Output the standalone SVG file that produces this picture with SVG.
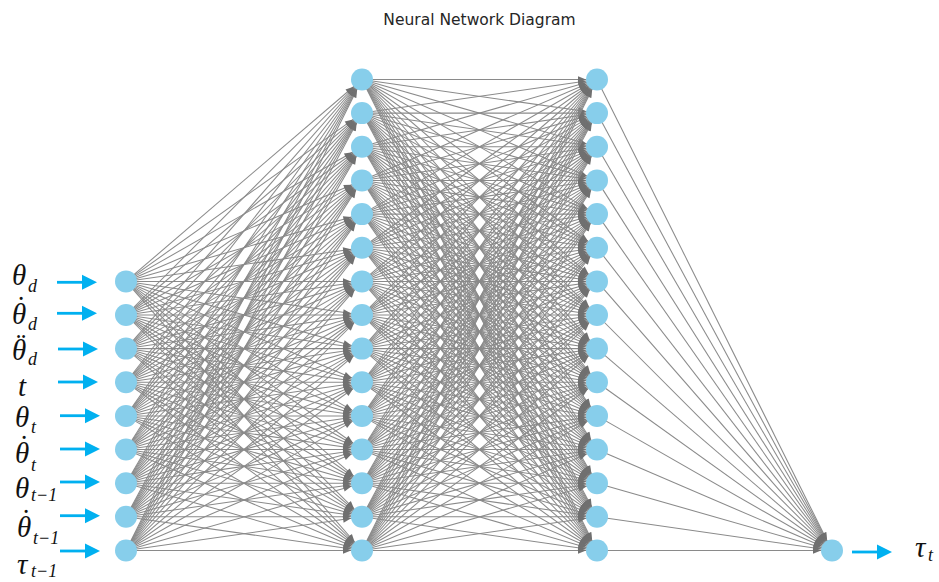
<svg xmlns="http://www.w3.org/2000/svg" width="939" height="582" viewBox="0 0 939 582">
<style>
.title{font-family:"DejaVu Sans","Liberation Sans",sans-serif;font-size:15.5px;fill:#262626}
.lbl{font-family:"Liberation Serif","DejaVu Serif",serif;font-style:italic;font-size:29px;fill:#111}
.sub{font-size:18px}
.acc{font-style:normal}
#connectors path{stroke:#8a8a8a;stroke-width:1.05;fill:none;marker-end:url(#ah)}
.node{fill:#87CEEB}
.barrow{fill:#00B0F0}
</style>
<defs>
<marker id="ah" markerUnits="userSpaceOnUse" markerWidth="30" markerHeight="10" refX="19" refY="0" orient="auto" overflow="visible">
<path d="M0,-3.2L8,0L0,3.2z" fill="#707070"/>
</marker>
<g id="ba"><rect x="0" y="-1.4" width="27" height="2.8"/><path d="M25,-7.5L40,0L25,7.5z"/></g>
</defs>
<rect width="939" height="582" fill="#fff"/>
<text class="title" x="479.5" y="25" text-anchor="middle">Neural Network Diagram</text>
<g id="connectors">
<path d="M126 281.4L362 79.5"/><path d="M126 281.4L362 113.1"/><path d="M126 281.4L362 146.8"/><path d="M126 281.4L362 180.4"/><path d="M126 281.4L362 214.1"/><path d="M126 281.4L362 247.7"/><path d="M126 281.4L362 281.4"/><path d="M126 281.4L362 315"/><path d="M126 281.4L362 348.6"/><path d="M126 281.4L362 382.3"/><path d="M126 281.4L362 415.9"/><path d="M126 281.4L362 449.5"/><path d="M126 281.4L362 483.2"/><path d="M126 281.4L362 516.8"/><path d="M126 281.4L362 550.5"/>
<path d="M126 315L362 79.5"/><path d="M126 315L362 113.1"/><path d="M126 315L362 146.8"/><path d="M126 315L362 180.4"/><path d="M126 315L362 214.1"/><path d="M126 315L362 247.7"/><path d="M126 315L362 281.4"/><path d="M126 315L362 315"/><path d="M126 315L362 348.6"/><path d="M126 315L362 382.3"/><path d="M126 315L362 415.9"/><path d="M126 315L362 449.5"/><path d="M126 315L362 483.2"/><path d="M126 315L362 516.8"/><path d="M126 315L362 550.5"/>
<path d="M126 348.6L362 79.5"/><path d="M126 348.6L362 113.1"/><path d="M126 348.6L362 146.8"/><path d="M126 348.6L362 180.4"/><path d="M126 348.6L362 214.1"/><path d="M126 348.6L362 247.7"/><path d="M126 348.6L362 281.4"/><path d="M126 348.6L362 315"/><path d="M126 348.6L362 348.6"/><path d="M126 348.6L362 382.3"/><path d="M126 348.6L362 415.9"/><path d="M126 348.6L362 449.5"/><path d="M126 348.6L362 483.2"/><path d="M126 348.6L362 516.8"/><path d="M126 348.6L362 550.5"/>
<path d="M126 382.3L362 79.5"/><path d="M126 382.3L362 113.1"/><path d="M126 382.3L362 146.8"/><path d="M126 382.3L362 180.4"/><path d="M126 382.3L362 214.1"/><path d="M126 382.3L362 247.7"/><path d="M126 382.3L362 281.4"/><path d="M126 382.3L362 315"/><path d="M126 382.3L362 348.6"/><path d="M126 382.3L362 382.3"/><path d="M126 382.3L362 415.9"/><path d="M126 382.3L362 449.5"/><path d="M126 382.3L362 483.2"/><path d="M126 382.3L362 516.8"/><path d="M126 382.3L362 550.5"/>
<path d="M126 415.9L362 79.5"/><path d="M126 415.9L362 113.1"/><path d="M126 415.9L362 146.8"/><path d="M126 415.9L362 180.4"/><path d="M126 415.9L362 214.1"/><path d="M126 415.9L362 247.7"/><path d="M126 415.9L362 281.4"/><path d="M126 415.9L362 315"/><path d="M126 415.9L362 348.6"/><path d="M126 415.9L362 382.3"/><path d="M126 415.9L362 415.9"/><path d="M126 415.9L362 449.5"/><path d="M126 415.9L362 483.2"/><path d="M126 415.9L362 516.8"/><path d="M126 415.9L362 550.5"/>
<path d="M126 449.5L362 79.5"/><path d="M126 449.5L362 113.1"/><path d="M126 449.5L362 146.8"/><path d="M126 449.5L362 180.4"/><path d="M126 449.5L362 214.1"/><path d="M126 449.5L362 247.7"/><path d="M126 449.5L362 281.4"/><path d="M126 449.5L362 315"/><path d="M126 449.5L362 348.6"/><path d="M126 449.5L362 382.3"/><path d="M126 449.5L362 415.9"/><path d="M126 449.5L362 449.5"/><path d="M126 449.5L362 483.2"/><path d="M126 449.5L362 516.8"/><path d="M126 449.5L362 550.5"/>
<path d="M126 483.2L362 79.5"/><path d="M126 483.2L362 113.1"/><path d="M126 483.2L362 146.8"/><path d="M126 483.2L362 180.4"/><path d="M126 483.2L362 214.1"/><path d="M126 483.2L362 247.7"/><path d="M126 483.2L362 281.4"/><path d="M126 483.2L362 315"/><path d="M126 483.2L362 348.6"/><path d="M126 483.2L362 382.3"/><path d="M126 483.2L362 415.9"/><path d="M126 483.2L362 449.5"/><path d="M126 483.2L362 483.2"/><path d="M126 483.2L362 516.8"/><path d="M126 483.2L362 550.5"/>
<path d="M126 516.8L362 79.5"/><path d="M126 516.8L362 113.1"/><path d="M126 516.8L362 146.8"/><path d="M126 516.8L362 180.4"/><path d="M126 516.8L362 214.1"/><path d="M126 516.8L362 247.7"/><path d="M126 516.8L362 281.4"/><path d="M126 516.8L362 315"/><path d="M126 516.8L362 348.6"/><path d="M126 516.8L362 382.3"/><path d="M126 516.8L362 415.9"/><path d="M126 516.8L362 449.5"/><path d="M126 516.8L362 483.2"/><path d="M126 516.8L362 516.8"/><path d="M126 516.8L362 550.5"/>
<path d="M126 550.5L362 79.5"/><path d="M126 550.5L362 113.1"/><path d="M126 550.5L362 146.8"/><path d="M126 550.5L362 180.4"/><path d="M126 550.5L362 214.1"/><path d="M126 550.5L362 247.7"/><path d="M126 550.5L362 281.4"/><path d="M126 550.5L362 315"/><path d="M126 550.5L362 348.6"/><path d="M126 550.5L362 382.3"/><path d="M126 550.5L362 415.9"/><path d="M126 550.5L362 449.5"/><path d="M126 550.5L362 483.2"/><path d="M126 550.5L362 516.8"/><path d="M126 550.5L362 550.5"/>
<path d="M362 79.5L597 79.5"/><path d="M362 79.5L597 113.1"/><path d="M362 79.5L597 146.8"/><path d="M362 79.5L597 180.4"/><path d="M362 79.5L597 214.1"/><path d="M362 79.5L597 247.7"/><path d="M362 79.5L597 281.4"/><path d="M362 79.5L597 315"/><path d="M362 79.5L597 348.6"/><path d="M362 79.5L597 382.3"/><path d="M362 79.5L597 415.9"/><path d="M362 79.5L597 449.5"/><path d="M362 79.5L597 483.2"/><path d="M362 79.5L597 516.8"/><path d="M362 79.5L597 550.5"/>
<path d="M362 113.1L597 79.5"/><path d="M362 113.1L597 113.1"/><path d="M362 113.1L597 146.8"/><path d="M362 113.1L597 180.4"/><path d="M362 113.1L597 214.1"/><path d="M362 113.1L597 247.7"/><path d="M362 113.1L597 281.4"/><path d="M362 113.1L597 315"/><path d="M362 113.1L597 348.6"/><path d="M362 113.1L597 382.3"/><path d="M362 113.1L597 415.9"/><path d="M362 113.1L597 449.5"/><path d="M362 113.1L597 483.2"/><path d="M362 113.1L597 516.8"/><path d="M362 113.1L597 550.5"/>
<path d="M362 146.8L597 79.5"/><path d="M362 146.8L597 113.1"/><path d="M362 146.8L597 146.8"/><path d="M362 146.8L597 180.4"/><path d="M362 146.8L597 214.1"/><path d="M362 146.8L597 247.7"/><path d="M362 146.8L597 281.4"/><path d="M362 146.8L597 315"/><path d="M362 146.8L597 348.6"/><path d="M362 146.8L597 382.3"/><path d="M362 146.8L597 415.9"/><path d="M362 146.8L597 449.5"/><path d="M362 146.8L597 483.2"/><path d="M362 146.8L597 516.8"/><path d="M362 146.8L597 550.5"/>
<path d="M362 180.4L597 79.5"/><path d="M362 180.4L597 113.1"/><path d="M362 180.4L597 146.8"/><path d="M362 180.4L597 180.4"/><path d="M362 180.4L597 214.1"/><path d="M362 180.4L597 247.7"/><path d="M362 180.4L597 281.4"/><path d="M362 180.4L597 315"/><path d="M362 180.4L597 348.6"/><path d="M362 180.4L597 382.3"/><path d="M362 180.4L597 415.9"/><path d="M362 180.4L597 449.5"/><path d="M362 180.4L597 483.2"/><path d="M362 180.4L597 516.8"/><path d="M362 180.4L597 550.5"/>
<path d="M362 214.1L597 79.5"/><path d="M362 214.1L597 113.1"/><path d="M362 214.1L597 146.8"/><path d="M362 214.1L597 180.4"/><path d="M362 214.1L597 214.1"/><path d="M362 214.1L597 247.7"/><path d="M362 214.1L597 281.4"/><path d="M362 214.1L597 315"/><path d="M362 214.1L597 348.6"/><path d="M362 214.1L597 382.3"/><path d="M362 214.1L597 415.9"/><path d="M362 214.1L597 449.5"/><path d="M362 214.1L597 483.2"/><path d="M362 214.1L597 516.8"/><path d="M362 214.1L597 550.5"/>
<path d="M362 247.7L597 79.5"/><path d="M362 247.7L597 113.1"/><path d="M362 247.7L597 146.8"/><path d="M362 247.7L597 180.4"/><path d="M362 247.7L597 214.1"/><path d="M362 247.7L597 247.7"/><path d="M362 247.7L597 281.4"/><path d="M362 247.7L597 315"/><path d="M362 247.7L597 348.6"/><path d="M362 247.7L597 382.3"/><path d="M362 247.7L597 415.9"/><path d="M362 247.7L597 449.5"/><path d="M362 247.7L597 483.2"/><path d="M362 247.7L597 516.8"/><path d="M362 247.7L597 550.5"/>
<path d="M362 281.4L597 79.5"/><path d="M362 281.4L597 113.1"/><path d="M362 281.4L597 146.8"/><path d="M362 281.4L597 180.4"/><path d="M362 281.4L597 214.1"/><path d="M362 281.4L597 247.7"/><path d="M362 281.4L597 281.4"/><path d="M362 281.4L597 315"/><path d="M362 281.4L597 348.6"/><path d="M362 281.4L597 382.3"/><path d="M362 281.4L597 415.9"/><path d="M362 281.4L597 449.5"/><path d="M362 281.4L597 483.2"/><path d="M362 281.4L597 516.8"/><path d="M362 281.4L597 550.5"/>
<path d="M362 315L597 79.5"/><path d="M362 315L597 113.1"/><path d="M362 315L597 146.8"/><path d="M362 315L597 180.4"/><path d="M362 315L597 214.1"/><path d="M362 315L597 247.7"/><path d="M362 315L597 281.4"/><path d="M362 315L597 315"/><path d="M362 315L597 348.6"/><path d="M362 315L597 382.3"/><path d="M362 315L597 415.9"/><path d="M362 315L597 449.5"/><path d="M362 315L597 483.2"/><path d="M362 315L597 516.8"/><path d="M362 315L597 550.5"/>
<path d="M362 348.6L597 79.5"/><path d="M362 348.6L597 113.1"/><path d="M362 348.6L597 146.8"/><path d="M362 348.6L597 180.4"/><path d="M362 348.6L597 214.1"/><path d="M362 348.6L597 247.7"/><path d="M362 348.6L597 281.4"/><path d="M362 348.6L597 315"/><path d="M362 348.6L597 348.6"/><path d="M362 348.6L597 382.3"/><path d="M362 348.6L597 415.9"/><path d="M362 348.6L597 449.5"/><path d="M362 348.6L597 483.2"/><path d="M362 348.6L597 516.8"/><path d="M362 348.6L597 550.5"/>
<path d="M362 382.3L597 79.5"/><path d="M362 382.3L597 113.1"/><path d="M362 382.3L597 146.8"/><path d="M362 382.3L597 180.4"/><path d="M362 382.3L597 214.1"/><path d="M362 382.3L597 247.7"/><path d="M362 382.3L597 281.4"/><path d="M362 382.3L597 315"/><path d="M362 382.3L597 348.6"/><path d="M362 382.3L597 382.3"/><path d="M362 382.3L597 415.9"/><path d="M362 382.3L597 449.5"/><path d="M362 382.3L597 483.2"/><path d="M362 382.3L597 516.8"/><path d="M362 382.3L597 550.5"/>
<path d="M362 415.9L597 79.5"/><path d="M362 415.9L597 113.1"/><path d="M362 415.9L597 146.8"/><path d="M362 415.9L597 180.4"/><path d="M362 415.9L597 214.1"/><path d="M362 415.9L597 247.7"/><path d="M362 415.9L597 281.4"/><path d="M362 415.9L597 315"/><path d="M362 415.9L597 348.6"/><path d="M362 415.9L597 382.3"/><path d="M362 415.9L597 415.9"/><path d="M362 415.9L597 449.5"/><path d="M362 415.9L597 483.2"/><path d="M362 415.9L597 516.8"/><path d="M362 415.9L597 550.5"/>
<path d="M362 449.5L597 79.5"/><path d="M362 449.5L597 113.1"/><path d="M362 449.5L597 146.8"/><path d="M362 449.5L597 180.4"/><path d="M362 449.5L597 214.1"/><path d="M362 449.5L597 247.7"/><path d="M362 449.5L597 281.4"/><path d="M362 449.5L597 315"/><path d="M362 449.5L597 348.6"/><path d="M362 449.5L597 382.3"/><path d="M362 449.5L597 415.9"/><path d="M362 449.5L597 449.5"/><path d="M362 449.5L597 483.2"/><path d="M362 449.5L597 516.8"/><path d="M362 449.5L597 550.5"/>
<path d="M362 483.2L597 79.5"/><path d="M362 483.2L597 113.1"/><path d="M362 483.2L597 146.8"/><path d="M362 483.2L597 180.4"/><path d="M362 483.2L597 214.1"/><path d="M362 483.2L597 247.7"/><path d="M362 483.2L597 281.4"/><path d="M362 483.2L597 315"/><path d="M362 483.2L597 348.6"/><path d="M362 483.2L597 382.3"/><path d="M362 483.2L597 415.9"/><path d="M362 483.2L597 449.5"/><path d="M362 483.2L597 483.2"/><path d="M362 483.2L597 516.8"/><path d="M362 483.2L597 550.5"/>
<path d="M362 516.8L597 79.5"/><path d="M362 516.8L597 113.1"/><path d="M362 516.8L597 146.8"/><path d="M362 516.8L597 180.4"/><path d="M362 516.8L597 214.1"/><path d="M362 516.8L597 247.7"/><path d="M362 516.8L597 281.4"/><path d="M362 516.8L597 315"/><path d="M362 516.8L597 348.6"/><path d="M362 516.8L597 382.3"/><path d="M362 516.8L597 415.9"/><path d="M362 516.8L597 449.5"/><path d="M362 516.8L597 483.2"/><path d="M362 516.8L597 516.8"/><path d="M362 516.8L597 550.5"/>
<path d="M362 550.5L597 79.5"/><path d="M362 550.5L597 113.1"/><path d="M362 550.5L597 146.8"/><path d="M362 550.5L597 180.4"/><path d="M362 550.5L597 214.1"/><path d="M362 550.5L597 247.7"/><path d="M362 550.5L597 281.4"/><path d="M362 550.5L597 315"/><path d="M362 550.5L597 348.6"/><path d="M362 550.5L597 382.3"/><path d="M362 550.5L597 415.9"/><path d="M362 550.5L597 449.5"/><path d="M362 550.5L597 483.2"/><path d="M362 550.5L597 516.8"/><path d="M362 550.5L597 550.5"/>
<path d="M597 79.5L832 550.5"/><path d="M597 113.1L832 550.5"/><path d="M597 146.8L832 550.5"/><path d="M597 180.4L832 550.5"/><path d="M597 214.1L832 550.5"/><path d="M597 247.7L832 550.5"/><path d="M597 281.4L832 550.5"/><path d="M597 315L832 550.5"/><path d="M597 348.6L832 550.5"/><path d="M597 382.3L832 550.5"/><path d="M597 415.9L832 550.5"/><path d="M597 449.5L832 550.5"/><path d="M597 483.2L832 550.5"/><path d="M597 516.8L832 550.5"/><path d="M597 550.5L832 550.5"/>
</g>
<g id="inputs" class="node">
<g id="in0"><circle cx="126" cy="281.4" r="11"/></g>
<g id="in1"><circle cx="126" cy="315" r="11"/></g>
<g id="in2"><circle cx="126" cy="348.6" r="11"/></g>
<g id="in3"><circle cx="126" cy="382.3" r="11"/></g>
<g id="in4"><circle cx="126" cy="415.9" r="11"/></g>
<g id="in5"><circle cx="126" cy="449.5" r="11"/></g>
<g id="in6"><circle cx="126" cy="483.2" r="11"/></g>
<g id="in7"><circle cx="126" cy="516.8" r="11"/></g>
<g id="in8"><circle cx="126" cy="550.5" r="11"/></g>
</g>
<g id="hidden1" class="node">
<g id="h1_0"><circle cx="362" cy="79.5" r="11"/></g>
<g id="h1_1"><circle cx="362" cy="113.1" r="11"/></g>
<g id="h1_2"><circle cx="362" cy="146.8" r="11"/></g>
<g id="h1_3"><circle cx="362" cy="180.4" r="11"/></g>
<g id="h1_4"><circle cx="362" cy="214.1" r="11"/></g>
<g id="h1_5"><circle cx="362" cy="247.7" r="11"/></g>
<g id="h1_6"><circle cx="362" cy="281.4" r="11"/></g>
<g id="h1_7"><circle cx="362" cy="315" r="11"/></g>
<g id="h1_8"><circle cx="362" cy="348.6" r="11"/></g>
<g id="h1_9"><circle cx="362" cy="382.3" r="11"/></g>
<g id="h1_10"><circle cx="362" cy="415.9" r="11"/></g>
<g id="h1_11"><circle cx="362" cy="449.5" r="11"/></g>
<g id="h1_12"><circle cx="362" cy="483.2" r="11"/></g>
<g id="h1_13"><circle cx="362" cy="516.8" r="11"/></g>
<g id="h1_14"><circle cx="362" cy="550.5" r="11"/></g>
</g>
<g id="hidden2" class="node">
<g id="h2_0"><circle cx="597" cy="79.5" r="11"/></g>
<g id="h2_1"><circle cx="597" cy="113.1" r="11"/></g>
<g id="h2_2"><circle cx="597" cy="146.8" r="11"/></g>
<g id="h2_3"><circle cx="597" cy="180.4" r="11"/></g>
<g id="h2_4"><circle cx="597" cy="214.1" r="11"/></g>
<g id="h2_5"><circle cx="597" cy="247.7" r="11"/></g>
<g id="h2_6"><circle cx="597" cy="281.4" r="11"/></g>
<g id="h2_7"><circle cx="597" cy="315" r="11"/></g>
<g id="h2_8"><circle cx="597" cy="348.6" r="11"/></g>
<g id="h2_9"><circle cx="597" cy="382.3" r="11"/></g>
<g id="h2_10"><circle cx="597" cy="415.9" r="11"/></g>
<g id="h2_11"><circle cx="597" cy="449.5" r="11"/></g>
<g id="h2_12"><circle cx="597" cy="483.2" r="11"/></g>
<g id="h2_13"><circle cx="597" cy="516.8" r="11"/></g>
<g id="h2_14"><circle cx="597" cy="550.5" r="11"/></g>
</g>
<g id="output" class="node"><circle cx="832" cy="550.5" r="11"/></g>
<g id="input-arrows" class="barrow">
<use href="#ba" transform="translate(57,282.3)"/>
<use href="#ba" transform="translate(57,313.3)"/>
<use href="#ba" transform="translate(58,349)"/>
<use href="#ba" transform="translate(58,382)"/>
<use href="#ba" transform="translate(60,415.7)"/>
<use href="#ba" transform="translate(60,449)"/>
<use href="#ba" transform="translate(60,482)"/>
<use href="#ba" transform="translate(60,515.7)"/>
<use href="#ba" transform="translate(60,551)"/>
<use href="#ba" transform="translate(852,552)"/>
</g>
<g id="labels" class="lbl">
<text><tspan x="12" y="285">θ</tspan><tspan class="sub" x="28" y="292">d</tspan></text>
<text><tspan x="12" y="324">θ</tspan><tspan class="acc" x="21" y="317" text-anchor="middle">˙</tspan><tspan class="sub" x="28" y="330">d</tspan></text>
<text><tspan x="12" y="360">θ</tspan><tspan class="acc" x="21" y="354" text-anchor="middle">¨</tspan><tspan class="sub" x="28" y="365">d</tspan></text>
<text x="18" y="396">t</text>
<text><tspan x="15" y="427">θ</tspan><tspan class="sub" x="31" y="433">t</tspan></text>
<text><tspan x="15" y="463">θ</tspan><tspan class="acc" x="24" y="456" text-anchor="middle">˙</tspan><tspan class="sub" x="31" y="471">t</tspan></text>
<text><tspan x="15" y="498">θ</tspan><tspan class="sub" x="31" y="501">t−1</tspan></text>
<text><tspan x="17" y="537">θ</tspan><tspan class="acc" x="26" y="530" text-anchor="middle">˙</tspan><tspan class="sub" x="33" y="544">t−1</tspan></text>
<text><tspan x="17" y="574">τ</tspan><tspan class="sub" x="31" y="577">t−1</tspan></text>
<text><tspan x="915" y="557">τ</tspan><tspan class="sub" x="928" y="561">t</tspan></text>
</g>
</svg>
